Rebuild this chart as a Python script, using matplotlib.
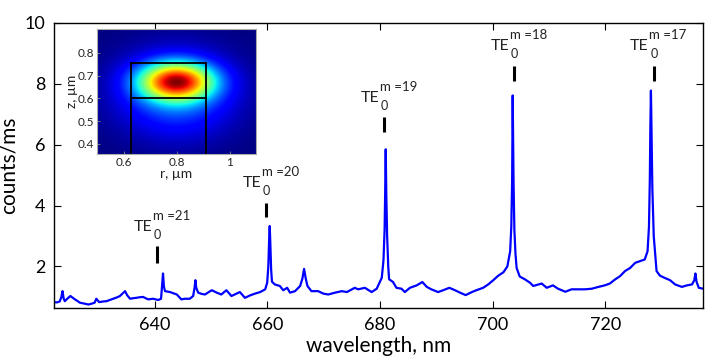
import numpy as np
import matplotlib
matplotlib.use("Agg")
import matplotlib.pyplot as plt

plt.rcParams["font.family"] = ["Lato", "DejaVu Sans"]

# -----------------------------
# Spectrum
# -----------------------------
wavelength_nm = [
    622.0, 622.6, 623.1, 623.4, 623.6, 623.8, 624.0, 624.5, 625.0, 625.8,
    626.7, 627.5, 628.2, 628.8, 629.3, 629.6, 630.1, 630.8, 631.4, 632.0,
    632.6, 633.2, 633.8, 634.3, 634.7, 635.1, 635.6, 636.2, 636.7, 637.3,
    637.9, 638.8, 639.7, 640.6, 641.1, 641.3, 641.45, 641.6, 641.8, 642.7,
    643.3, 643.9, 644.7, 645.3, 646.2, 646.8, 647.05, 647.2, 647.35, 647.7,
    648.3, 648.9, 649.5, 650.1, 651.0, 651.8, 652.7, 653.6, 654.4, 655.1,
    656.0, 656.9, 657.8, 658.7, 659.6, 659.95, 660.15, 660.3, 660.4, 660.5,
    660.65, 660.8, 661.3, 662.2, 662.8, 663.5, 664.0, 664.9, 665.8, 666.2,
    666.5, 666.8, 667.1, 667.8, 669.0, 669.9, 670.8, 672.0, 673.2, 674.1,
    675.5, 676.1, 677.3, 678.5, 679.4, 680.3, 680.6, 680.8, 680.9, 681.0,
    681.1, 681.25, 681.45, 681.6, 682.3, 682.9, 683.8, 684.4, 685.3, 686.5,
    687.5, 688.3, 689.1, 690.3, 691.2, 692.3, 693.3, 694.2, 695.2, 696.3,
    697.1, 698.3, 699.2, 700.1, 701.0, 701.9, 702.6, 703.1, 703.3, 703.45,
    703.55, 703.7, 703.85, 704.05, 704.25, 704.8, 705.7, 706.6, 707.2, 708.1,
    708.7, 709.6, 710.7, 711.6, 712.9, 714.0, 715.2, 716.4, 717.6, 718.8,
    719.9, 720.8, 721.7, 722.6, 723.5, 724.4, 725.3, 726.1, 727.0, 727.5,
    727.75, 727.9, 728.0, 728.1, 728.2, 728.35, 728.6, 728.9, 729.1, 729.7,
    730.6, 731.5, 732.4, 733.6, 734.5, 735.4, 735.8, 736.0, 736.2, 736.6,
    737.4,
]
counts = [
    0.83, 0.82, 0.85, 1.00, 1.19, 0.95, 0.86, 0.95, 1.03, 0.92,
    0.81, 0.78, 0.75, 0.78, 0.81, 0.94, 0.83, 0.85, 0.86, 0.90,
    0.94, 0.98, 1.03, 1.12, 1.19, 1.05, 0.94, 0.96, 0.97, 0.99,
    1.00, 0.92, 0.94, 0.90, 0.94, 1.40, 1.77, 1.35, 1.19, 1.16,
    1.12, 1.08, 0.92, 0.94, 0.94, 1.03, 1.30, 1.55, 1.30, 1.14,
    1.10, 1.08, 1.15, 1.22, 1.14, 1.08, 1.22, 1.03, 1.10, 1.16,
    0.97, 1.05, 1.11, 1.16, 1.25, 1.47, 2.00, 2.90, 3.33, 2.80,
    1.90, 1.50, 1.41, 1.36, 1.22, 1.30, 1.14, 1.19, 1.36, 1.60,
    1.92, 1.60, 1.36, 1.19, 1.19, 1.11, 1.08, 1.14, 1.19, 1.16,
    1.30, 1.25, 1.30, 1.16, 1.27, 1.63, 2.20, 3.20, 4.40, 5.85,
    4.40, 3.00, 2.00, 1.58, 1.49, 1.30, 1.27, 1.16, 1.30, 1.38,
    1.49, 1.33, 1.25, 1.16, 1.22, 1.30, 1.22, 1.14, 1.06, 1.16,
    1.22, 1.30, 1.41, 1.55, 1.70, 1.81, 2.00, 2.50, 3.30, 4.80,
    7.62, 4.80, 3.20, 2.40, 1.95, 1.67, 1.58, 1.47, 1.36, 1.41,
    1.44, 1.30, 1.38, 1.27, 1.17, 1.25, 1.25, 1.25, 1.27, 1.33,
    1.38, 1.44, 1.57, 1.68, 1.85, 1.95, 2.12, 2.17, 2.23, 2.50,
    3.30, 4.80, 6.60, 7.78, 6.60, 4.60, 3.00, 2.30, 1.85, 1.70,
    1.62, 1.55, 1.41, 1.33, 1.38, 1.41, 1.55, 1.77, 1.50, 1.30,
    1.27,
]
assert len(wavelength_nm) == len(counts)

# mode labels: marker position and vertical extent of the black bar
mode_m = [21, 20, 19, 18, 17]
mode_wl = [640.4, 659.8, 680.7, 703.8, 728.6]
mode_bar_lo = [2.13, 3.63, 6.42, 8.11, 8.11]
mode_bar_hi = [2.66, 4.09, 6.90, 8.59, 8.59]

# -----------------------------
# Inset: mode field parameters (r, z in um)
# -----------------------------
r_range = (0.5, 1.1)
z_range = (0.355, 0.905)
core_r, core_z = 0.80, 0.675
core_wr, core_wz = 0.135, 0.08
halo_amp, halo_wr, halo_wz, halo_z = 0.32, 0.21, 0.18, 0.62
film_r = (0.63, 0.91)
film_z = (0.60, 0.757)

# -----------------------------
# Figure
# -----------------------------
fig = plt.figure(figsize=(7.24, 3.62), dpi=100)
ax = fig.add_axes([0.0739, 0.1478, 0.8975, 0.7887])

ax.plot(wavelength_nm, counts, color="#0000ff", lw=1.6)

ax.set_xlim(622.0, 737.4)
ax.set_ylim(0.62, 10)
ax.set_xticks([640, 660, 680, 700, 720])
ax.set_yticks([2, 4, 6, 8, 10])
ax.tick_params(direction="in", length=5, width=0.8, top=True, right=True,
               labelsize=13, pad=6)
ax.set_xlabel("wavelength, nm", fontsize=15, labelpad=2)
ax.set_ylabel("counts/ms", fontsize=15, labelpad=4)
for s in ax.spines.values():
    s.set_linewidth(1.0)

# mode markers + TE labels (TE, subscript 0, superscript m =..)
renderer = fig.canvas.get_renderer()
for m, w, lo, hi in zip(mode_m, mode_wl, mode_bar_lo, mode_bar_hi):
    ax.plot([w, w], [lo, hi], color="black", lw=2.2, solid_capstyle="butt")
    anchor = (w - 4.2, hi + 0.52)
    te = ax.text(*anchor, "TE", fontsize=11.5, ha="left", va="baseline",
                 color="#222222")
    te_w = te.get_window_extent(renderer).width
    ax.annotate("0", xy=anchor, xytext=(te_w + 1.5, -8), textcoords="offset pixels",
                fontsize=9, ha="left", va="baseline", color="#222222")
    ax.annotate("m =%d" % m, xy=anchor, xytext=(te_w + 0.5, 11), textcoords="offset pixels",
                fontsize=9.5, ha="left", va="baseline", color="#222222")

# inset
axi = fig.add_axes([0.134, 0.5746, 0.2196, 0.3453])
rr = np.linspace(r_range[0], r_range[1], 240)
zz = np.linspace(z_range[0], z_range[1], 240)
R, Z = np.meshgrid(rr, zz)
field = np.exp(-((R - core_r) / core_wr) ** 2 - ((Z - core_z) / core_wz) ** 2)
field += halo_amp * np.exp(-((R - core_r) / halo_wr) ** 2 - ((Z - halo_z) / halo_wz) ** 2)
field /= field.max()
axi.imshow(field, extent=[r_range[0], r_range[1], z_range[0], z_range[1]],
           origin="lower", aspect="auto", cmap="jet", vmin=0, vmax=1)
axi.plot([film_r[0], film_r[0]], [z_range[0], film_z[1]], color="black", lw=1.3)
axi.plot([film_r[1], film_r[1]], [z_range[0], film_z[1]], color="black", lw=1.3)
axi.plot(film_r, [film_z[1], film_z[1]], color="black", lw=1.3)
axi.plot(film_r, [film_z[0], film_z[0]], color="black", lw=1.3)
axi.set_xlim(*r_range)
axi.set_ylim(*z_range)
axi.set_xticks([0.6, 0.8, 1.0])
axi.set_xticklabels(["0.6", "0.8", "1"])
axi.set_yticks([0.4, 0.5, 0.6, 0.7, 0.8])
axi.tick_params(direction="in", length=2, width=0.6, labelsize=8.5, pad=2,
                color="#888888", labelcolor="#222222")
axi.set_xlabel("r, \u00b5m", fontsize=10, labelpad=0, color="#222222")
axi.set_ylabel("z, \u00b5m", fontsize=10, labelpad=0, color="#222222")
for s in axi.spines.values():
    s.set_color("#aaaaaa")
    s.set_linewidth(0.8)

fig.savefig("out.png", dpi=100)
